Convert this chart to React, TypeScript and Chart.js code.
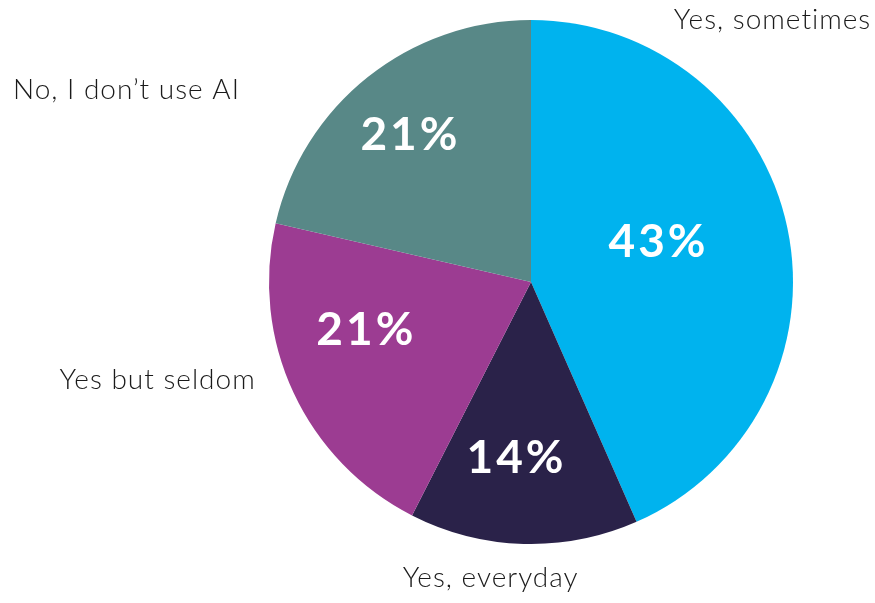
import React, { useEffect, useRef } from "react";
import { Chart, registerables } from "chart.js";

Chart.register(...registerables);

const categories = ["Yes, sometimes", "Yes, everyday", "Yes but seldom", "No, I don’t use AI"];
const shares = [43.4, 14.1, 21.1, 21.4];
const percentLabels = ["43%", "14%", "21%", "21%"];
const sliceColors = ["#00B3EE", "#2A2249", "#9C3C92", "#588887"];

// label placement relative to chart center, as fractions of radius
const innerPos = [
  { dx: 0.481, dy: -0.153 },
  { dx: -0.061, dy: 0.672 },
  { dx: -0.634, dy: 0.183 },
  { dx: -0.466, dy: -0.561 },
];
const outerPos = [
  { dx: 0.92, dy: -1.002 },
  { dx: -0.156, dy: 1.13 },
  { dx: -1.427, dy: 0.374 },
  { dx: -1.546, dy: -0.733 },
];

const labelPlugin = {
  id: "pieLabels",
  afterDatasetsDraw(chart: any) {
    const ctx = chart.ctx;
    const meta = chart.getDatasetMeta(0);
    const arc0 = meta.data[0];
    if (!arc0) return;
    const cx = arc0.x;
    const cy = arc0.y;
    const r = arc0.outerRadius;
    ctx.save();
    ctx.textBaseline = "middle";
    ctx.textAlign = "center";
    meta.data.forEach((_: any, i: number) => {
      ctx.fillStyle = "#ffffff";
      ctx.font = "bold 46px 'Lato', 'DejaVu Sans', sans-serif";
      (ctx as any).letterSpacing = "3px";
      ctx.fillText(percentLabels[i], cx + innerPos[i].dx * r + 1.5, cy + innerPos[i].dy * r);
      ctx.fillStyle = "#1a1a1a";
      ctx.font = "300 28px 'Lato', 'Open Sans', sans-serif";
      (ctx as any).letterSpacing = "1px";
      ctx.fillText(categories[i], cx + outerPos[i].dx * r + 0.5, cy + outerPos[i].dy * r);
    });
    ctx.restore();
  },
};

export default function App() {
  const ref = useRef<HTMLCanvasElement>(null);
  useEffect(() => {
    if (!ref.current) return;
    const chart = new Chart(ref.current, {
      type: "pie",
      data: {
        labels: categories,
        datasets: [
          {
            data: shares,
            backgroundColor: sliceColors,
            borderWidth: 0,
          },
        ],
      },
      options: {
        animation: false,
        responsive: false,
        maintainAspectRatio: false,
        layout: { padding: { left: 269, right: 82, top: 20, bottom: 59 } },
        plugins: {
          legend: { display: false },
          tooltip: { enabled: false },
        },
      },
      plugins: [labelPlugin],
    });
    return () => chart.destroy();
  }, []);
  return (
    <div style={{ position: "fixed", left: 0, top: 0, width: 875, height: 603, background: "#fff" }}>
      <canvas ref={ref} width={875} height={603} style={{ display: "block" }} />
    </div>
  );
}
